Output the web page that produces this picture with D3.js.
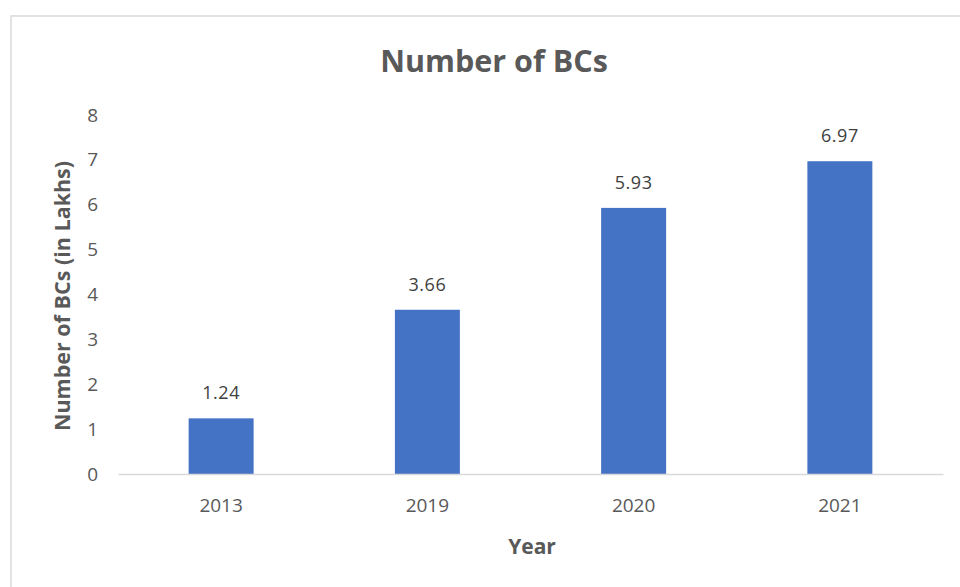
<!DOCTYPE html>
<html><head><meta charset="utf-8">
<script src="https://cdn.jsdelivr.net/npm/d3@7"></script>
<style>body{margin:0;background:#fff;} text{font-family:"Open Sans","Noto Sans",sans-serif;}</style>
</head><body>
<svg id="c" width="960" height="587"></svg>
<script>
const categories = ["2013","2019","2020","2021"];
const values = [1.24, 3.66, 5.93, 6.97];
const yTicks = [0,1,2,3,4,5,6,7,8];

const svg = d3.select("#c");
svg.append("rect").attr("x",11).attr("y",16).attr("width",980).attr("height",600)
  .attr("fill","#fff").attr("stroke","#d9d9d9").attr("stroke-width",1.5);

const x = d3.scaleBand().domain(categories).range([118,943]).paddingInner(0.685).paddingOuter(0.3425);
const y = d3.scaleLinear().domain([0,8]).range([474,115]);

svg.append("text").attr("x",494).attr("y",72).attr("text-anchor","middle")
  .attr("font-size",30.5).attr("font-weight","bold").attr("fill","#595959").text("Number of BCs");

const ya = svg.append("g").attr("transform","translate(118,0)")
  .call(d3.axisLeft(y).tickValues(yTicks).tickSize(0).tickPadding(20));
ya.select(".domain").remove();
ya.selectAll("text").attr("font-size",19).attr("fill","#595959").style("font-family","Open Sans");

svg.selectAll(".bar").data(values).join("rect").attr("class","bar")
  .attr("x",(d,i)=>x(categories[i])).attr("width",x.bandwidth())
  .attr("y",d=>y(d)).attr("height",d=>y(0)-y(d)).attr("fill","#4472c4");

const xa = svg.append("g").attr("transform","translate(0,474)")
  .call(d3.axisBottom(x).tickSize(0).tickPadding(25));
xa.select(".domain").attr("stroke","#d9d9d9").attr("stroke-width",1.5);
xa.selectAll("text").attr("font-size",19).attr("fill","#595959").style("font-family","Open Sans");

svg.selectAll(".lbl").data(values).join("text").attr("class","lbl")
  .attr("x",(d,i)=>x(categories[i])+x.bandwidth()/2).attr("y",d=>y(d)-19)
  .attr("text-anchor","middle").attr("font-size",18).attr("letter-spacing",0.5).attr("fill","#404040").text(d=>d.toFixed(2));

svg.append("text").attr("x",532).attr("y",554).attr("text-anchor","middle")
  .attr("font-size",21).attr("font-weight","bold").attr("fill","#595959").text("Year");

svg.append("text").attr("transform","translate(70,296) rotate(-90)").attr("text-anchor","middle")
  .attr("font-size",21.5).attr("font-weight","bold").attr("fill","#595959").text("Number of BCs (in Lakhs)");
</script>
</body></html>
